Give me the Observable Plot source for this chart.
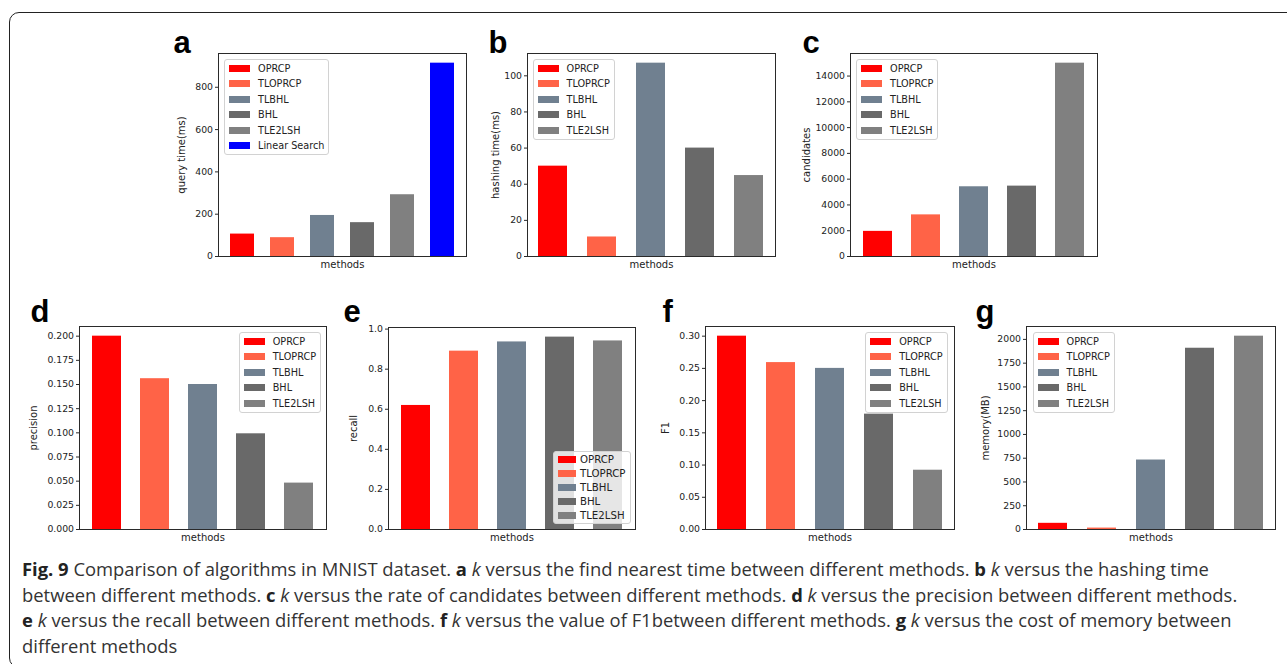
<!DOCTYPE html>
<html>
<head>
<meta charset="utf-8">
<script src="https://cdn.jsdelivr.net/npm/d3@7"></script>
<script src="https://cdn.jsdelivr.net/npm/@observablehq/plot@0.6"></script>
<style>
  body { margin: 0; background: #fff; }
  #fig { position: relative; width: 1287px; height: 664px; overflow: hidden; background: #fff; }
  #border { position: absolute; left: 9px; top: 12px; width: 1330px; height: 656px; border: 1.5px solid #222; border-radius: 10px; box-sizing: border-box; }
  .panel { position: absolute; }
  .legend { position: absolute; background: rgba(255,255,255,0.8); border: 1px solid #d2d2d2; border-radius: 3px;
            font-family: "DejaVu Sans"; color: #222; box-sizing: border-box; padding: 0.5px 4px 0.5px 0; }
  .row { position: relative; white-space: nowrap; }
  .sw { position: absolute; }
  #caption { position: absolute; left: 22px; top: 556px; font-family: "Open Sans"; font-size: 18.4px; line-height: 25.7px;
             color: #333; white-space: nowrap; }
  #caption b { font-weight: 700; color: #222; }
</style>
</head>
<body>
<div id="fig">
  <div id="border"></div>
</div>
<script>
// ---- data ----
const methods = ["OPRCP", "TLOPRCP", "TLBHL", "BHL", "TLE2LSH"];
const methodsA = ["OPRCP", "TLOPRCP", "TLBHL", "BHL", "TLE2LSH", "Linear Search"];
const methodColors = ["#ff0000", "#ff6347", "#708090", "#696969", "#808080", "#0000ff"];

const queryTime   = [106, 89, 194, 160, 292, 914];
const hashingTime = [50, 10.8, 107, 60, 44.8];
const candidates  = [1950, 3230, 5410, 5460, 15000];
const precision   = [0.200, 0.156, 0.150, 0.099, 0.048];
const recall      = [0.619, 0.890, 0.936, 0.960, 0.941];
const f1Score     = [0.300, 0.259, 0.250, 0.179, 0.092];
const memory      = [65, 15, 731, 1907, 2034];

const ticksA = [0, 200, 400, 600, 800];
const ticksB = [0, 20, 40, 60, 80, 100];
const ticksC = [0, 2000, 4000, 6000, 8000, 10000, 12000, 14000];
const ticksD = [0, 0.025, 0.05, 0.075, 0.1, 0.125, 0.15, 0.175, 0.2];
const ticksE = [0, 0.2, 0.4, 0.6, 0.8, 1.0];
const ticksF = [0, 0.05, 0.1, 0.15, 0.2, 0.25, 0.3];
const ticksG = [0, 250, 500, 750, 1000, 1250, 1500, 1750, 2000];

const panels = [
  {letter: "a", ylabel: "query time(ms)", cats: methodsA, values: queryTime, ticks: ticksA, fmt: d3.format("d"),
   frame: [218, 53, 466, 256], letterPos: [173, 52], ylabelX: 181, legend: {anchor: "ul", dx: 6, dy: 6}},
  {letter: "b", ylabel: "hashing time(ms)", cats: methods, values: hashingTime, ticks: ticksB, fmt: d3.format("d"),
   frame: [527, 53, 775, 256], letterPos: [488, 52], ylabelX: 495, legend: {anchor: "ul", dx: 5.5, dy: 6}},
  {letter: "c", ylabel: "candidates", cats: methods, values: candidates, ticks: ticksC, fmt: d3.format("d"),
   frame: [850, 53, 1097, 256], letterPos: [802, 52], ylabelX: 806.5, legend: {anchor: "ul", dx: 6, dy: 6}},
  {letter: "d", ylabel: "precision", cats: methods, values: precision, ticks: ticksD, fmt: d3.format(".3f"),
   frame: [79, 326, 326, 529], letterPos: [30, 321], ylabelX: 33.5, legend: {anchor: "ur", dx: 5, dy: 6}},
  {letter: "e", ylabel: "recall", cats: methods, values: recall, ticks: ticksE, fmt: d3.format(".1f"),
   frame: [388, 327, 635, 529], letterPos: [343, 321], ylabelX: 353.5, legend: {anchor: "lr", dx: 4.5, dy: 5, fontSize: 10.2, rowH: 14, swW: 18, swL: 4, textL: 26}},
  {letter: "f", ylabel: "F1", cats: methods, values: f1Score, ticks: ticksF, fmt: d3.format(".2f"),
   frame: [705, 326, 954, 529], letterPos: [662, 321], ylabelX: 665, legend: {anchor: "ur", dx: 6.5, dy: 6}},
  {letter: "g", ylabel: "memory(MB)", cats: methods, values: memory, ticks: ticksG, fmt: d3.format("d"),
   frame: [1026, 326, 1275, 529], letterPos: [975, 321], ylabelX: 985, legend: {anchor: "ul", dx: 6.5, dy: 6}}
];

const fig = document.getElementById("fig");
const ML = 66, MT = 50, MR = 10, MB = 24;
const LETTER_FS = 31, LABEL_FS = 10, TICK_FS = 9.3;

for (const p of panels) {
  const [x0, y0, x1, y1] = p.frame;
  const n = p.cats.length;
  const data = p.cats.map((m, i) => ({method: m, value: p.values[i]}));
  const chart = Plot.plot({
    width: x1 - x0 + ML + MR,
    height: y1 - y0 + MT + MB,
    marginLeft: ML, marginRight: MR, marginTop: MT, marginBottom: MB,
    style: {background: "transparent", fontFamily: "DejaVu Sans", fontSize: LABEL_FS + "px", color: "#222", overflow: "visible"},
    x: {type: "band", domain: p.cats, paddingInner: 0.4, paddingOuter: 0.05 * (n - 0.4), axis: null},
    y: {domain: [0, d3.max(p.values) * 1.05], nice: false, axis: null},
    color: {domain: methodsA, range: methodColors},
    marks: [
      Plot.barY(data, {x: "method", y: "value", fill: "method"}),
      Plot.frame({stroke: "#2a2a2a", strokeWidth: 1}),
      Plot.axisY({ticks: p.ticks, tickFormat: p.fmt, tickSize: 3, tickPadding: 2.5, label: null, stroke: "#2a2a2a", fontSize: TICK_FS}),
      Plot.text([p.letter], {text: d => d, frameAnchor: "top-left", textAnchor: "start", lineAnchor: "middle",
        dx: p.letterPos[0] - x0, dy: p.letterPos[1] - 0.32 * LETTER_FS - y0,
        fontSize: LETTER_FS, fontWeight: "bold", fontFamily: "Liberation Sans", fill: "#000"}),
      Plot.text([p.ylabel], {text: d => d, frameAnchor: "left", textAnchor: "middle", lineAnchor: "middle",
        dx: p.ylabelX - x0, rotate: -90, fontSize: LABEL_FS}),
      Plot.text(["methods"], {text: d => d, frameAnchor: "bottom", textAnchor: "middle", lineAnchor: "middle",
        dy: 8, fontSize: LABEL_FS})
    ]
  });
  const holder = document.createElement("div");
  holder.className = "panel";
  holder.style.left = (x0 - ML) + "px";
  holder.style.top = (y0 - MT) + "px";
  holder.appendChild(chart);
  fig.appendChild(holder);

  // legend (matplotlib-style box inside the axes)
  const lg = Object.assign({fontSize: 9.7, rowH: 15.5, swW: 21, swL: 4, textL: 33}, p.legend);
  const box = document.createElement("div");
  box.className = "legend";
  box.style.fontSize = lg.fontSize + "px";
  if (lg.anchor === "ul") { box.style.left = (x0 + lg.dx) + "px"; box.style.top = (y0 + lg.dy) + "px"; }
  if (lg.anchor === "ur") { box.style.right = (1287 - x1 + lg.dx) + "px"; box.style.top = (y0 + lg.dy) + "px"; }
  if (lg.anchor === "lr") { box.style.right = (1287 - x1 + lg.dx) + "px"; box.style.bottom = (664 - y1 + lg.dy) + "px"; }
  p.cats.forEach((m, i) => {
    const row = document.createElement("div");
    row.className = "row";
    row.style.height = lg.rowH + "px";
    row.style.lineHeight = lg.rowH + "px";
    row.style.paddingLeft = lg.textL + "px";
    const sw = document.createElement("span");
    sw.className = "sw";
    sw.style.left = lg.swL + "px";
    sw.style.width = lg.swW + "px";
    sw.style.height = "7.3px";
    sw.style.top = ((lg.rowH - 7.3) / 2) + "px";
    sw.style.background = methodColors[methodsA.indexOf(m)];
    row.appendChild(sw);
    row.appendChild(document.createTextNode(m));
    box.appendChild(row);
  });
  fig.appendChild(box);
}

// caption
const cap = document.createElement("div");
cap.id = "caption";
cap.innerHTML =
  "<b>Fig. 9</b> Comparison of algorithms in MNIST dataset. <b>a</b> <i>k</i> versus the find nearest time between different methods. <b>b</b> <i>k</i> versus the hashing time<br>" +
  "between different methods. <b>c</b> <i>k</i> versus the rate of candidates between different methods. <b>d</b> <i>k</i> versus the precision between different methods.<br>" +
  "<b>e</b> <i>k</i> versus the recall between different methods. <b>f</b> <i>k</i> versus the value of F1between different methods. <b>g</b> <i>k</i> versus the cost of memory between<br>" +
  "different methods";
fig.appendChild(cap);
</script>
</body>
</html>
